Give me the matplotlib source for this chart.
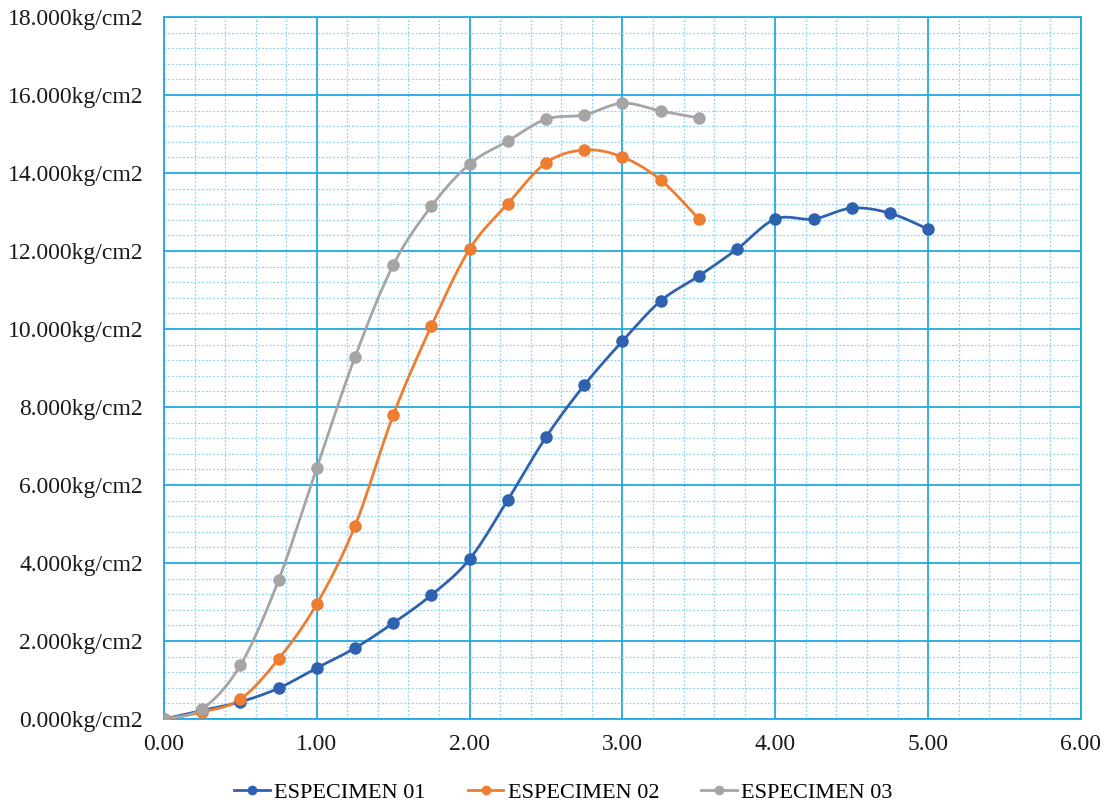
import numpy as np
import matplotlib
matplotlib.use("Agg")
import matplotlib.pyplot as plt
from matplotlib.ticker import MultipleLocator, FuncFormatter

x01 = [0, 0.25, 0.5, 0.75, 1.0, 1.25, 1.5, 1.75, 2.0, 2.25, 2.5, 2.75, 3.0, 3.25, 3.5, 3.75, 4.0, 4.25, 4.5, 4.75, 5.0]
y01 = [0, 0.22, 0.44, 0.79, 1.31, 1.82, 2.46, 3.18, 4.10, 5.62, 7.23, 8.56, 9.69, 10.72, 11.36, 12.05, 12.82, 12.82, 13.10, 12.97, 12.56]
x02 = [0, 0.25, 0.5, 0.75, 1.0, 1.25, 1.5, 1.75, 2.0, 2.25, 2.5, 2.75, 3.0, 3.25, 3.5]
y02 = [0, 0.18, 0.51, 1.54, 2.95, 4.95, 7.79, 10.08, 12.05, 13.21, 14.26, 14.59, 14.41, 13.82, 12.82]
x03 = [0, 0.25, 0.5, 0.75, 1.0, 1.25, 1.5, 1.75, 2.0, 2.25, 2.5, 2.75, 3.0, 3.25, 3.5]
y03 = [0, 0.26, 1.38, 3.56, 6.44, 9.28, 11.64, 13.15, 14.23, 14.82, 15.38, 15.49, 15.79, 15.59, 15.41]
labels = ["ESPECIMEN 01", "ESPECIMEN 02", "ESPECIMEN 03"]
colors = ["#2E62B0", "#ED7D31", "#A5A5A5"]

plt.rcParams['font.family'] = ['Liberation Serif', 'DejaVu Serif']


def smooth(x, y, n=20):
    x = np.asarray(x, float); y = np.asarray(y, float)
    P = np.column_stack([x, y])
    P = np.vstack([P[0], P, P[-1]])
    out = []
    for i in range(1, len(P) - 2):
        p0, p1, p2, p3 = P[i - 1], P[i], P[i + 1], P[i + 2]
        c1 = p1 + (p2 - p0) / 6.0
        c2 = p2 - (p3 - p1) / 6.0
        t = np.linspace(0, 1, n, endpoint=(i == len(P) - 3))[:, None]
        b = (1 - t) ** 3 * p1 + 3 * (1 - t) ** 2 * t * c1 + 3 * (1 - t) * t ** 2 * c2 + t ** 3 * p2
        out.append(b)
    out = np.vstack(out)
    return out[:, 0], out[:, 1]


fig = plt.figure(figsize=(11.07, 8.05), dpi=100)
ax = fig.add_axes([0.1481, 0.1068, 0.8284, 0.8721])

grid_c = "#22A8E0"
for (xs, ys, lab, c) in zip([x01, x02, x03], [y01, y02, y03], labels, colors):
    sx, sy = smooth(xs, ys)
    ax.plot(sx, sy, color=c, lw=2.0, zorder=3)
    ax.plot(xs, ys, 'o', color=c, ms=8, zorder=4)
    ax.plot([], [], '-o', color=c, lw=2.0, ms=6, label=lab)

ax.set_xlim(0, 6)
ax.set_ylim(0, 18)
ax.xaxis.set_major_locator(MultipleLocator(1))
ax.xaxis.set_minor_locator(MultipleLocator(0.2))
ax.yaxis.set_major_locator(MultipleLocator(2))
ax.yaxis.set_minor_locator(MultipleLocator(0.4))
ax.xaxis.set_major_formatter(FuncFormatter(lambda v, p: f"{v:.2f}"))
ax.yaxis.set_major_formatter(FuncFormatter(lambda v, p: f"{v:.3f}kg/cm2"))
ax.grid(which='major', color=grid_c, lw=1.3, zorder=1)
ax.grid(which='minor', color="#8FD0F0", lw=0.9, ls=(0, (1.5, 1.5)), zorder=0)
ax.tick_params(which='both', length=0)
ax.tick_params(axis='y', labelsize=17, colors='#1a1a1a', pad=15)
ax.tick_params(axis='x', labelsize=17, colors='#1a1a1a', pad=11)
ax.set_axisbelow(True)
for s in ax.spines.values():
    s.set_color(grid_c)
    s.set_linewidth(1.3)

fig.legend(loc='lower center', bbox_to_anchor=(0.509, -0.022), ncol=3, frameon=False,
           fontsize=16, handlelength=1.6, columnspacing=1.9, handletextpad=0.2)

fig.savefig("out.png", dpi=100)
